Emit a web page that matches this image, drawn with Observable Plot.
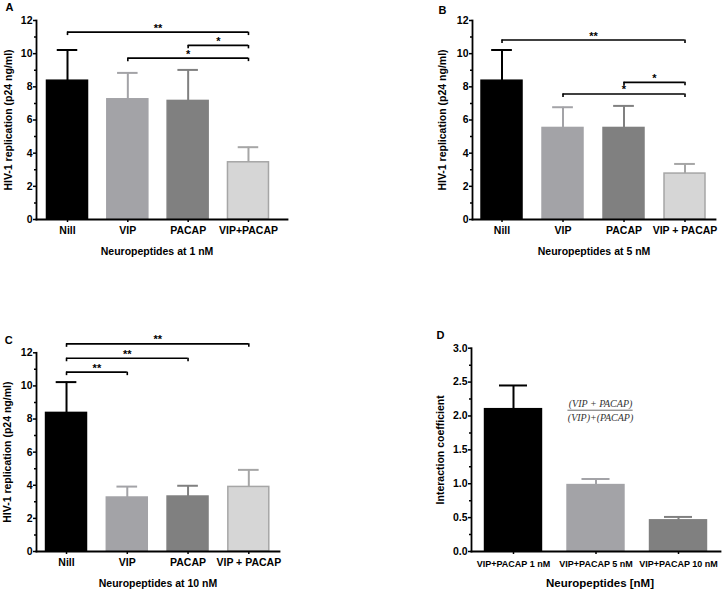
<!DOCTYPE html>
<html><head><meta charset="utf-8">
<script src="https://cdn.jsdelivr.net/npm/d3@7"></script>
<script src="https://cdn.jsdelivr.net/npm/@observablehq/plot@0.6"></script>
<style>
body{margin:0;background:#fff;}
#chart{position:relative;width:724px;height:592px;overflow:hidden;background:#fff;}
#chart svg{position:absolute;left:0;top:0;overflow:visible;background:transparent !important;}
</style></head><body><div id="chart"></div>
<script>
// ---- data ----
const groupsA = ["Nill", "VIP", "PACAP", "VIP+PACAP"];
const groupsBC = ["Nill", "VIP", "PACAP", "VIP + PACAP"];
const groupsD = ["VIP+PACAP 1 nM", "VIP+PACAP 5 nM", "VIP+PACAP 10 nM"];
const meanA = [8.37, 7.25, 7.15, 3.45];
const semA  = [1.85, 1.59, 1.87, 0.91];
const meanB = [8.37, 5.52, 5.52, 2.77];
const semB  = [1.85, 1.25, 1.33, 0.58];
const meanC = [8.37, 3.26, 3.32, 3.90];
const semC  = [1.86, 0.66, 0.65, 1.03];
const meanD = [2.10, 0.98, 0.46];
const semD  = [0.35, 0.09, 0.05];
const yTicksHIV = [0, 2, 4, 6, 8, 10, 12];
const yMinorHIV = [1, 3, 5, 7, 9, 11];
const yTicksD = [0, 0.5, 1, 1.5, 2, 2.5, 3];
const yMinorD = [0.25, 0.75, 1.25, 1.75, 2.25, 2.75];
// significance brackets: [from, to, level, label]
const sigA = [["Nill", "VIP+PACAP", 11.3, "**"], ["PACAP", "VIP+PACAP", 10.5, "*"], ["VIP", "VIP+PACAP", 9.73, "*"]];
const sigB = [["Nill", "VIP + PACAP", 10.82, "**"], ["PACAP", "VIP + PACAP", 8.27, "*"], ["VIP", "VIP + PACAP", 7.57, "*"]];
const sigC = [["Nill", "VIP + PACAP", 12.54, "**"], ["Nill", "PACAP", 11.67, "**"], ["Nill", "VIP", 10.83, "**"]];
const fills4 = ["#000000", "#a3a3a7", "#808080", "#d6d6d6"];
const strokes4 = ["#000000", "#a3a3a7", "#808080", "#a6a6a6"];
const fills3 = ["#000000", "#a3a3a7", "#808080"];
const formulaTop = "(VIP + PACAP)";
const formulaBottom = "(VIP)+(PACAP)";

function panel(o) {
  const bars = o.groups.map((g, i) => ({i, g, v: o.mean[i], e: o.sem[i], fill: o.fills[i], stroke: o.strokes[i]}));
  const idx = g => o.groups.indexOf(g);
  const brackets = (o.sig || []).map(([a, b, lvl, lab]) => ({x1: idx(a), x2: idx(b), lvl, lab}));
  const drops = brackets.flatMap(d => [{x: d.x1, lvl: d.lvl}, {x: d.x2, lvl: d.lvl}]);
  const hw = o.halfWidth, cap = o.capHalf, drop = o.dropLen;
  return Plot.plot({
    width: 724, height: 592,
    marginLeft: o.ml, marginRight: o.mr, marginTop: o.mt, marginBottom: o.mb,
    style: {fontFamily: "'Liberation Sans', Arial, sans-serif", fontWeight: "bold", fontSize: "10.5px", color: "#000", background: "transparent"},
    x: {type: "linear", domain: o.xDomain},
    y: {domain: o.yDomain},
    marks: [
      Plot.rectY(bars, {x1: d => d.i - hw, x2: d => d.i + hw, y1: 0, y2: "v", fill: "fill", stroke: "stroke", strokeWidth: 1.5}),
      Plot.ruleX(bars, {x: "i", y1: "v", y2: d => d.v + d.e, stroke: "stroke", strokeWidth: 2}),
      Plot.ruleY(bars, {x1: d => d.i - cap, x2: d => d.i + cap, y: d => d.v + d.e, stroke: "stroke", strokeWidth: 2}),
      Plot.ruleY(brackets, {x1: "x1", x2: "x2", y: "lvl", stroke: "#000", strokeWidth: 1.6}),
      Plot.ruleX(drops, {x: "x", y1: d => d.lvl - drop, y2: "lvl", stroke: "#000", strokeWidth: 1.6}),
      Plot.text(brackets, {x: d => (d.x1 + d.x2) / 2, y: "lvl", text: "lab", dy: -4, fontSize: 11}),
      Plot.axisY({ticks: o.yTicks, tickSize: 3, tickPadding: 1, tickFormat: o.yFormat, label: null, strokeWidth: 1.5}),
      Plot.axisY({ticks: o.yMinor, tickSize: 2, tickFormat: () => "", label: null, strokeWidth: 1.5}),
      Plot.axisX({ticks: d3.range(o.groups.length), tickFormat: i => o.groups[i], tickSize: 3, tickPadding: o.xPad, label: null, fontSize: o.xFontSize, strokeWidth: 1.5}),
      Plot.frame({anchor: "left", strokeWidth: 1.8}),
      Plot.frame({anchor: "bottom", strokeWidth: 1.8}),
      Plot.text([o.yTitle], {text: d => d, frameAnchor: "left", rotate: -90, dx: o.yTitleDx, textAnchor: "middle", lineAnchor: "middle"}),
      Plot.text([o.xTitle], {text: d => d, frameAnchor: "bottom", dy: 32, dx: o.xTitleDx, textAnchor: "middle", lineAnchor: "middle", fontSize: o.xTitleSize}),
      Plot.text([o.letter], {text: d => d, frameAnchor: "top-left", dx: o.letterDx, dy: o.letterDy, textAnchor: "middle", lineAnchor: "middle", fontSize: 11}),
      ...(o.extra || [])
    ]
  });
}

const hivTitle = "HIV-1 replication (p24 ng/ml)";
const common = {yDomain: [0, 12], yTicks: yTicksHIV, yMinor: yMinorHIV, yFormat: d3.format("d"), capHalf: 0.17, dropLen: 0.21, xFontSize: 10.5, xTitleSize: 10.5, xPad: 4.5, yTitle: hivTitle};

const chart = document.getElementById("chart");
chart.append(panel({...common, groups: groupsA, mean: meanA, sem: semA, fills: fills4, strokes: strokes4, sig: sigA,
  ml: 36, mr: 437, mt: 20, mb: 373, xDomain: [-0.514, 3.647], halfWidth: 0.34,
  xTitle: "Neuropeptides at 1 nM", xTitleDx: -5, yTitleDx: -28, letter: "A", letterDx: -27, letterDy: -13}));
chart.append(panel({...common, groups: groupsBC, mean: meanB, sem: semB, fills: fills4, strokes: strokes4, sig: sigB,
  ml: 472, mr: 9, mt: 20, mb: 373, xDomain: [-0.484, 3.5], halfWidth: 0.336,
  xTitle: "Neuropeptides at 5 nM", xTitleDx: 0, yTitleDx: -30, letter: "B", letterDx: -30, letterDy: -10.5}));
chart.append(panel({...common, groups: groupsBC, mean: meanC, sem: semC, fills: fills4, strokes: strokes4, sig: sigC,
  ml: 36, mr: 445, mt: 352.3, mb: 41, xDomain: [-0.494, 3.505], halfWidth: 0.337,
  xTitle: "Neuropeptides at 10 nM", xTitleDx: 0, yTitleDx: -28.5, letter: "C", letterDx: -27.7, letterDy: -12.3}));
chart.append(panel({groups: groupsD, mean: meanD, sem: semD, fills: fills3, strokes: fills3, sig: [],
  yDomain: [0, 3], yTicks: yTicksD, yMinor: yMinorD, yFormat: d3.format(".1f"), capHalf: 0.17, dropLen: 0,
  xFontSize: 9, xTitleSize: 11.5, xPad: 6,
  ml: 471, mr: 4, mt: 347.7, mb: 41, xDomain: [-0.509, 2.509], halfWidth: 0.345,
  yTitle: "Interaction coefficient", xTitle: "Neuropeptides [nM]", xTitleDx: 4, yTitleDx: -31,
  letter: "D", letterDx: -31, letterDy: -12.7,
  extra: [
    Plot.text([formulaTop], {text: d => d, x: 1.055, y: 2.18, fontFamily: "'Liberation Serif', 'Times New Roman', serif", fontStyle: "italic", fontWeight: "normal", fontSize: 10, fill: "#333"}),
    Plot.ruleY([2.085], {x1: 0.66, x2: 1.45, stroke: "#444", strokeWidth: 0.8}),
    Plot.text([formulaBottom], {text: d => d, x: 1.055, y: 1.98, fontFamily: "'Liberation Serif', 'Times New Roman', serif", fontStyle: "italic", fontWeight: "normal", fontSize: 10, fill: "#333"})
  ]}));
</script>
</body></html>
